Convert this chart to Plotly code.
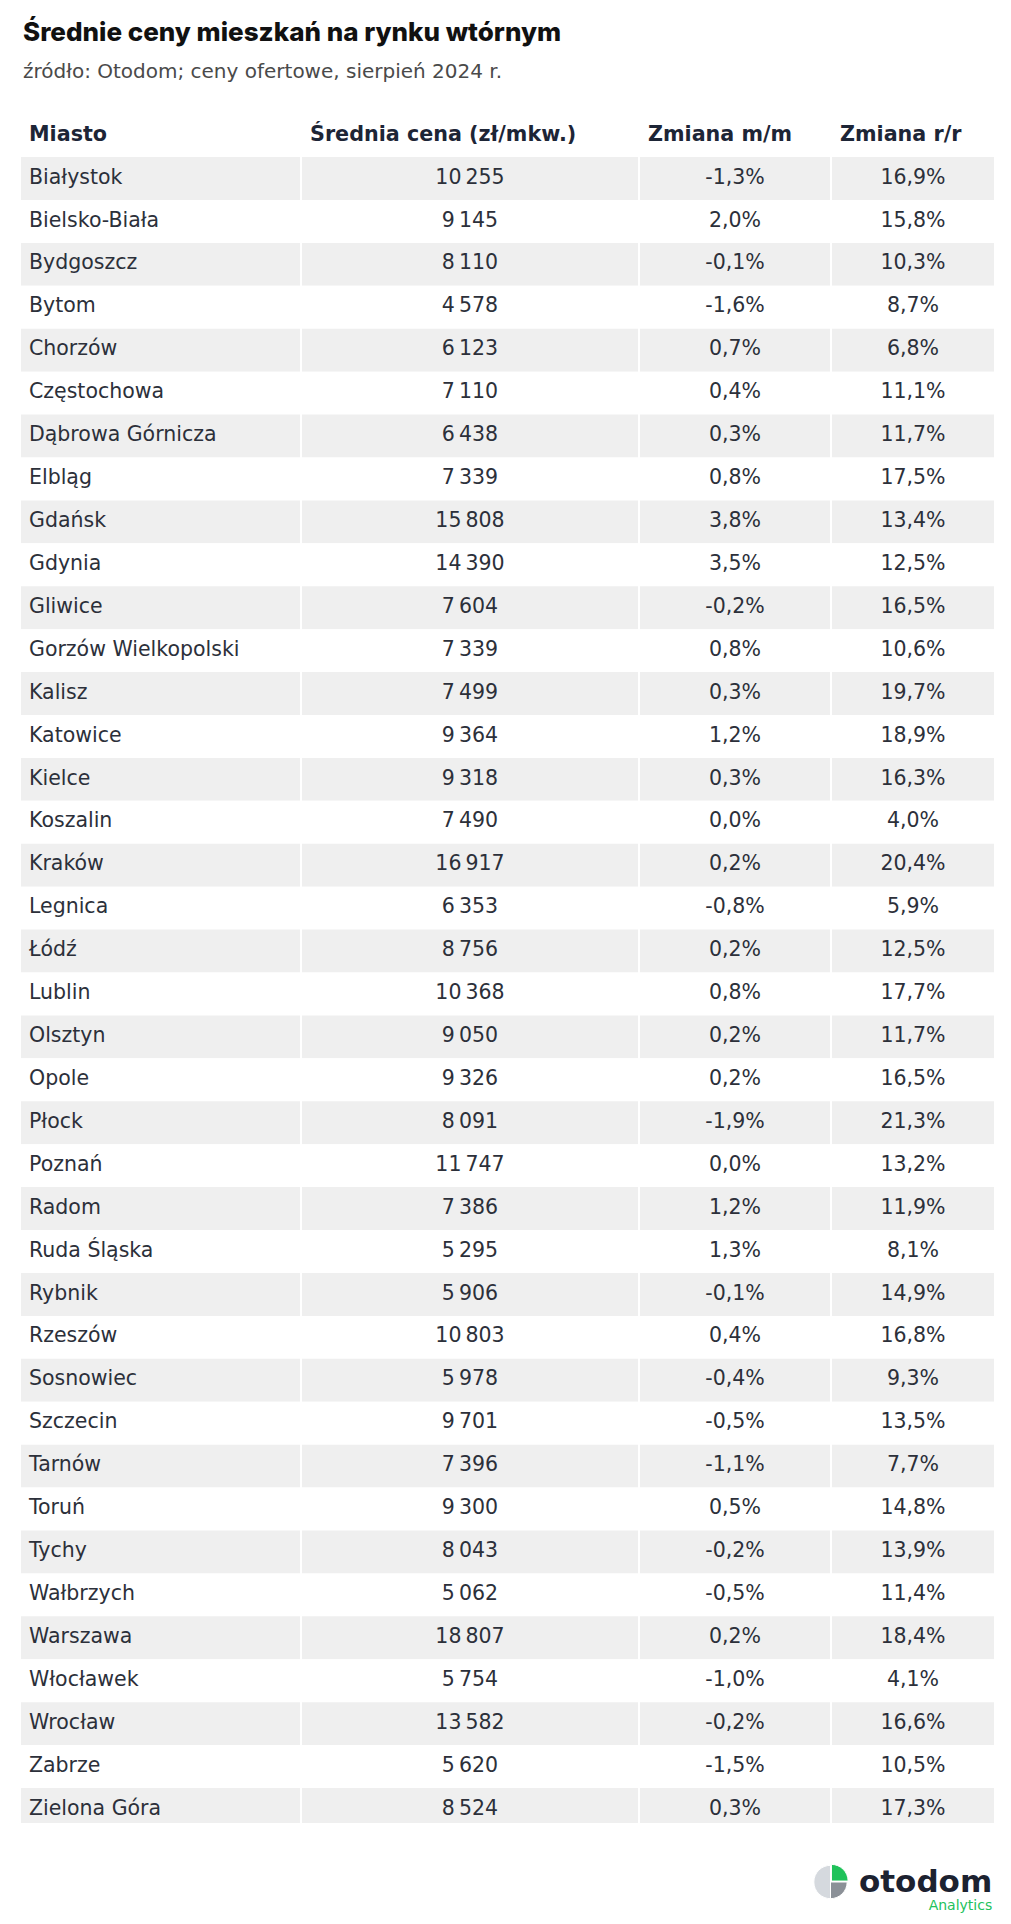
import plotly.graph_objects as go

# Średnie ceny ofertowe mieszkań na rynku wtórnym, sierpień 2024
cities = [
    "Białystok", "Bielsko-Biała", "Bydgoszcz", "Bytom", "Chorzów", "Częstochowa",
    "Dąbrowa Górnicza", "Elbląg", "Gdańsk", "Gdynia", "Gliwice", "Gorzów Wielkopolski",
    "Kalisz", "Katowice", "Kielce", "Koszalin", "Kraków", "Legnica", "Łódź", "Lublin",
    "Olsztyn", "Opole", "Płock", "Poznań", "Radom", "Ruda Śląska", "Rybnik", "Rzeszów",
    "Sosnowiec", "Szczecin", "Tarnów", "Toruń", "Tychy", "Wałbrzych", "Warszawa",
    "Włocławek", "Wrocław", "Zabrze", "Zielona Góra",
]
avg_price = [
    10255, 9145, 8110, 4578, 6123, 7110, 6438, 7339, 15808, 14390, 7604, 7339,
    7499, 9364, 9318, 7490, 16917, 6353, 8756, 10368, 9050, 9326, 8091, 11747,
    7386, 5295, 5906, 10803, 5978, 9701, 7396, 9300, 8043, 5062, 18807, 5754,
    13582, 5620, 8524,
]
change_mm = [
    -1.3, 2.0, -0.1, -1.6, 0.7, 0.4, 0.3, 0.8, 3.8, 3.5, -0.2, 0.8,
    0.3, 1.2, 0.3, 0.0, 0.2, -0.8, 0.2, 0.8, 0.2, 0.2, -1.9, 0.0,
    1.2, 1.3, -0.1, 0.4, -0.4, -0.5, -1.1, 0.5, -0.2, -0.5, 0.2, -1.0,
    -0.2, -1.5, 0.3,
]
change_rr = [
    16.9, 15.8, 10.3, 8.7, 6.8, 11.1, 11.7, 17.5, 13.4, 12.5, 16.5, 10.6,
    19.7, 18.9, 16.3, 4.0, 20.4, 5.9, 12.5, 17.7, 11.7, 16.5, 21.3, 13.2,
    11.9, 8.1, 14.9, 16.8, 9.3, 13.5, 7.7, 14.8, 13.9, 11.4, 18.4, 4.1,
    16.6, 10.5, 17.3,
]
headers = ["Miasto", "Średnia cena (zł/mkw.)", "Zmiana m/m", "Zmiana r/r"]
logo_shares = [25, 25, 50]

W, H = 1011, 1924
OFF = 8                # the page body margin shifts the figure by 8px
ROW_H = 42.92          # row pitch in px
FIRST_ROW_Y = 178.5    # centre of first data row, px from top of page
LAST_ROW_H = 35        # the last band is cut a little short

# column cells (left edge, right edge) in page px
col_edges = [(21, 300), (302, 638), (640, 830), (832, 994)]
TEXT_PAD = 8
DARK = "#2c303a"
HEAD = "#1d2536"


def px(x):
    return (x - OFF) / W


def py(y):
    return 1 - (y - OFF) / H


def fmt_price(v):
    return f"{v:,}".replace(",", "\u202f")


def fmt_pct(v):
    return f"{v:.1f}%".replace(".", ",")


rows = list(range(len(cities)))
row_fill = ["#efefef" if i % 2 == 0 else "#ffffff" for i in rows]
band_h = [1] * (len(rows) - 1) + [LAST_ROW_H / ROW_H]
columns = [
    cities,
    [fmt_price(v) for v in avg_price],
    [fmt_pct(v) for v in change_mm],
    [fmt_pct(v) for v in change_rr],
]

fig = go.Figure()

# cell backgrounds
for left, right in col_edges:
    fig.add_trace(go.Bar(
        y=rows, x=[right - left] * len(rows), base=left, orientation="h",
        width=band_h, offset=-0.5, marker=dict(color=row_fill, line=dict(width=0)),
        hoverinfo="skip", showlegend=False,
    ))

# cell texts
for c, (vals, (left, right)) in enumerate(zip(columns, col_edges)):
    if c == 0:
        xs, pos = [left + TEXT_PAD] * len(rows), "middle right"
    else:
        xs, pos = [(left + right) / 2] * len(rows), "middle center"
    fig.add_trace(go.Scatter(
        x=xs, y=rows, mode="text", text=vals, textposition=pos,
        textfont=dict(family="DejaVu Sans", size=20.5, color=DARK),
        hoverinfo="skip", showlegend=False,
    ))

# header row
fig.add_trace(go.Scatter(
    x=[left + TEXT_PAD for left, _ in col_edges], y=[-1] * len(headers),
    mode="text", text=headers, textposition="middle right",
    textfont=dict(family="DejaVu Sans", size=20.7, color=HEAD, weight="bold"),
    hoverinfo="skip", showlegend=False,
))

# logo icon
fig.add_trace(go.Pie(
    values=logo_shares,
    marker=dict(colors=["#1fc25a", "#8b9097", "#d5d9de"], line=dict(color="white", width=1)),
    pull=[0.08, 0, 0], sort=False, direction="clockwise", rotation=0,
    textinfo="none", hoverinfo="skip", showlegend=False,
    domain=dict(x=[px(812), px(849)], y=[py(1900), py(1864)]),
))

fig.add_annotation(text="Średnie ceny mieszkań na rynku wtórnym",
                   x=px(21), y=py(31), xref="paper", yref="paper",
                   xanchor="left", yanchor="middle", showarrow=False,
                   font=dict(family="Inter", size=26, color="#111111", weight=800))
fig.add_annotation(text="źródło: Otodom; ceny ofertowe, sierpień 2024 r.",
                   x=px(21), y=py(71), xref="paper", yref="paper",
                   xanchor="left", yanchor="middle", showarrow=False,
                   font=dict(family="DejaVu Sans", size=20, color="#4a4a4a"))
fig.add_annotation(
    text="<span style='font-size:31px;color:#1c2230'><b>otodom</b></span><br>Analytics",
    x=px(994), y=py(1915), xref="paper", yref="paper",
    xanchor="right", yanchor="bottom", align="right", showarrow=False,
    font=dict(family="DejaVu Sans", size=14, color="#22c25c"),
)

fig.update_layout(
    width=W,
    height=H,
    margin=dict(l=0, r=0, t=0, b=0),
    paper_bgcolor="white",
    plot_bgcolor="white",
    barmode="overlay",
    xaxis=dict(range=[OFF, W + OFF], domain=[0, 1], visible=False, fixedrange=True),
    yaxis=dict(range=[(H + OFF - FIRST_ROW_Y) / ROW_H, (OFF - FIRST_ROW_Y) / ROW_H],
               domain=[0, 1], visible=False, fixedrange=True),
)

fig.write_html("out.html")
